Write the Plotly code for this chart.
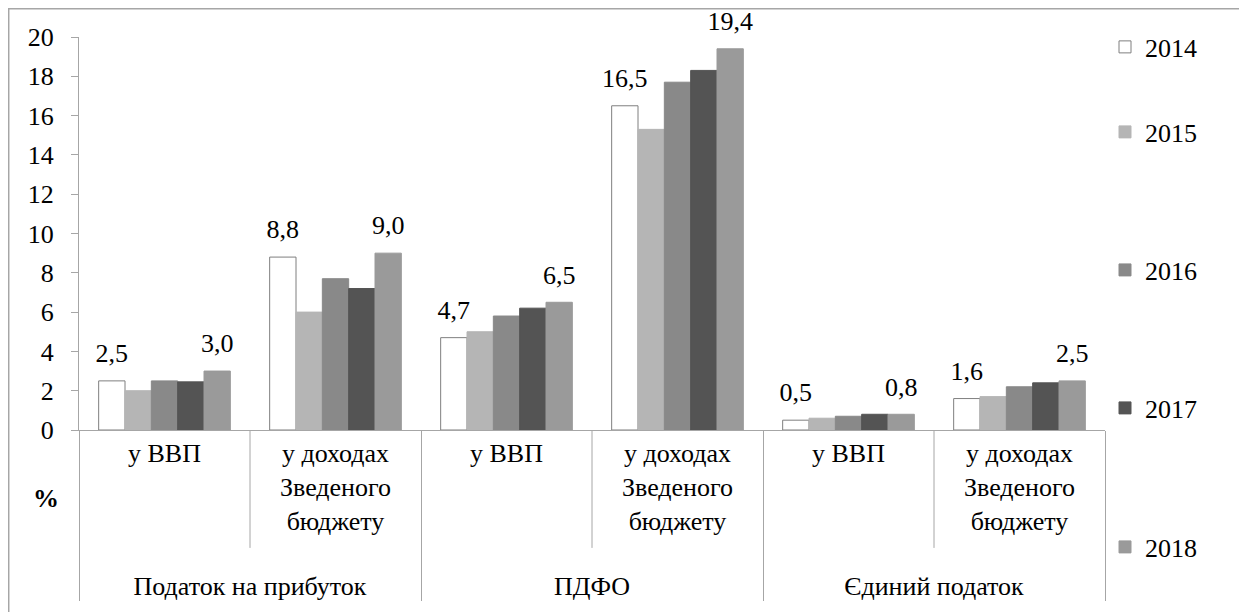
import plotly.graph_objects as go

groups = ["Податок на прибуток", "Податок на прибуток", "ПДФО", "ПДФО",
          "Єдиний податок", "Єдиний податок"]
subcats = ["у ВВП", "у доходах<br>Зведеного<br>бюджету"] * 3
years = ["2014", "2015", "2016", "2017", "2018"]
v2014 = [2.5, 8.8, 4.7, 16.5, 0.5, 1.6]
v2015 = [2.0, 6.0, 5.0, 15.3, 0.6, 1.7]
v2016 = [2.5, 7.7, 5.8, 17.7, 0.7, 2.2]
v2017 = [2.45, 7.2, 6.2, 18.3, 0.8, 2.4]
v2018 = [3.0, 9.0, 6.5, 19.4, 0.8, 2.5]
series = [v2014, v2015, v2016, v2017, v2018]
labelled = [True, False, False, False, True]
yticks = list(range(0, 21, 2))

colors = ["#ffffff", "#b5b5b5", "#898989", "#545454", "#9a9a9a"]
lines = ["#7f7f7f", "#b5b5b5", "#898989", "#545454", "#9a9a9a"]
legend_ids = ["legend", "legend2", "legend3", "legend4", "legend5"]
legend_y = [0.9746, 0.7583, 0.4071, 0.0560, -0.2977]

FONT = "'Liberation Serif', 'Times New Roman', serif"
x = [["<br>" + g for g in groups], subcats]

fig = go.Figure()
for i, (yr, vals) in enumerate(zip(years, series)):
    fig.add_trace(go.Bar(
        x=x, y=vals, name=yr,
        marker=dict(color=colors[i], line=dict(color=lines[i], width=1)),
        legend=legend_ids[i], hoverinfo="y",
    ))
for i, (yr, vals) in enumerate(zip(years, series)):
    fig.add_trace(go.Scatter(
        x=x, y=vals, mode="markers+text", orientation="v",
        text=[f"{v:.1f}".replace(".", ",") if labelled[i] else "" for v in vals],
        textposition="top center",
        textfont=dict(family=FONT, size=26, color="#000000"),
        marker=dict(size=18, opacity=0),
        showlegend=False, hoverinfo="skip", cliponaxis=False,
    ))

shapes = [
    dict(type="rect", xref="paper", yref="paper", x0=-0.0685, x1=1.5, y0=-1.0, y1=1.072,
         line=dict(color="#a6a6a6", width=1.5), fillcolor="rgba(0,0,0,0)", layer="below"),
]
for b in [0.5, 2.5, 4.5]:
    shapes.append(dict(type="line", xref="x", yref="paper", x0=b, x1=b, y0=0, y1=-0.30,
                       line=dict(color="#a6a6a6", width=1)))

layout_legends = {}
for i, lid in enumerate(legend_ids):
    layout_legends[lid] = dict(x=1.0, xanchor="left", y=legend_y[i], yanchor="middle",
                               font=dict(family=FONT, size=26, color="#000000"),
                               bgcolor="rgba(0,0,0,0)", itemwidth=30)

fig.update_layout(
    width=1239, height=604, autosize=False,
    margin=dict(l=71, r=142, t=29, b=182),
    paper_bgcolor="white", plot_bgcolor="white",
    barmode="group", bargap=0.23, bargroupgap=0,
    scattermode="group", scattergap=0.23,
    font=dict(family=FONT, size=26, color="#000000"),
    xaxis=dict(type="multicategory", showline=True, linecolor="#a6a6a6", linewidth=1,
               showdividers=True, dividercolor="#a6a6a6", dividerwidth=1,
               ticks="", tickfont=dict(family=FONT, size=26, color="#000000"),
               showgrid=False, zeroline=False),
    yaxis=dict(range=[0, 20], tickvals=yticks, showline=True, linecolor="#a6a6a6", linewidth=1,
               ticks="outside", ticklen=7, tickcolor="#a6a6a6", showgrid=False, zeroline=False,
               ticklabelstandoff=12,
               tickfont=dict(family=FONT, size=26, color="#000000")),
    shapes=shapes,
    annotations=[dict(text="<b>%</b>", xref="paper", yref="paper", x=-0.0467, y=-0.216,
                      showarrow=False, font=dict(family=FONT, size=26, color="#000000"))],
    **layout_legends,
)

fig.write_html("out.html")
